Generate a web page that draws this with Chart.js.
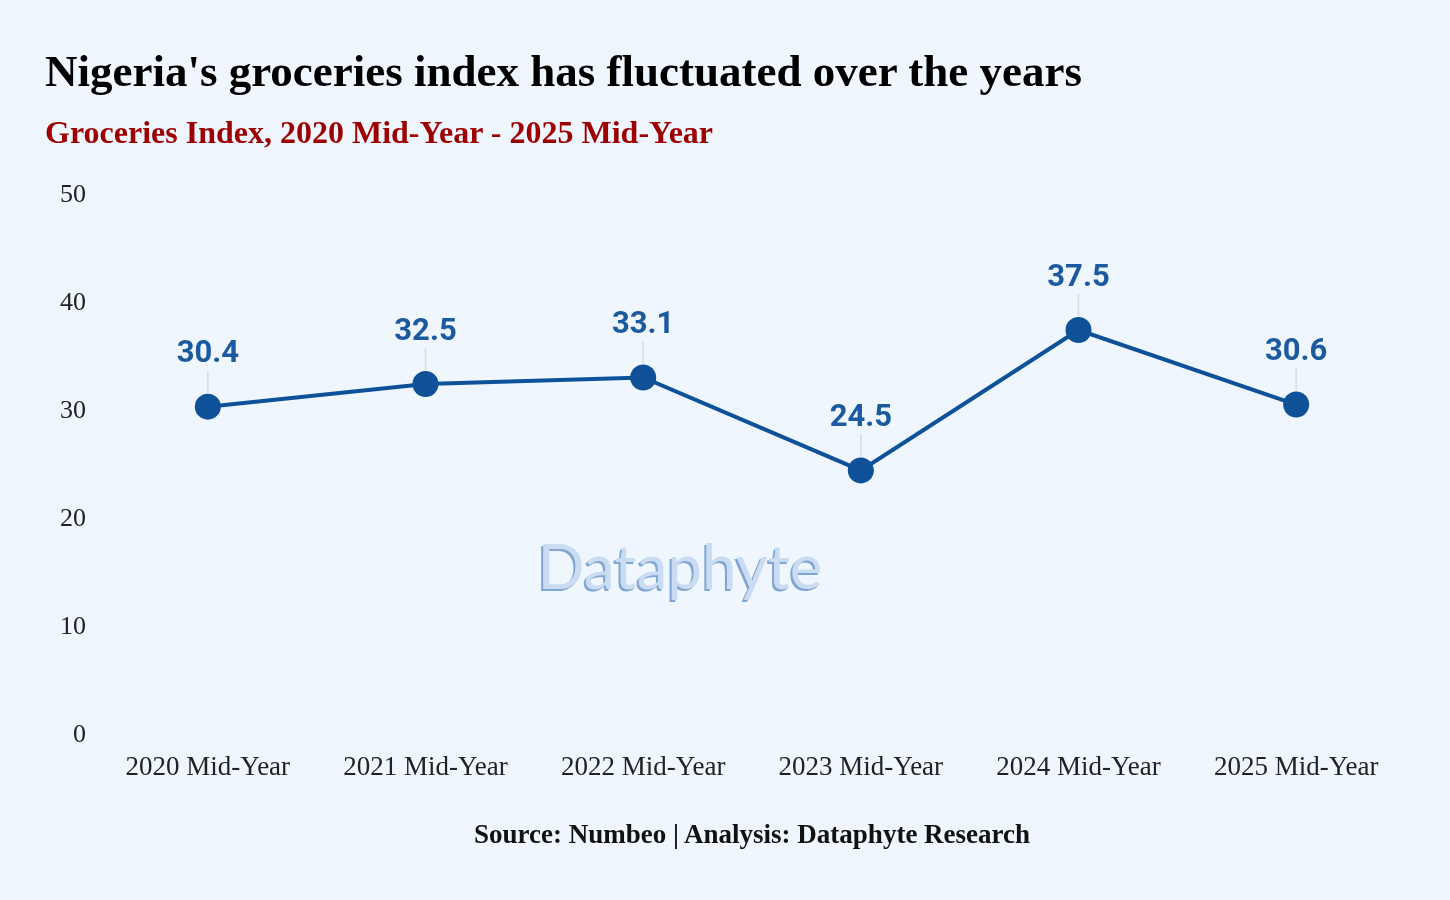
<!DOCTYPE html>
<html>
<head>
<meta charset="utf-8">
<title>Nigeria groceries index</title>
<script src="https://cdn.jsdelivr.net/npm/chart.js@4/dist/chart.umd.min.js"></script>
<style>
  html, body { margin: 0; padding: 0; background: #eff6fd; }
  .wrap { position: relative; width: 1450px; height: 900px; }
  .title { position: absolute; left: 45px; top: 45px; font: bold 45px "Liberation Serif", serif; color: #000; white-space: nowrap; }
  .subtitle { position: absolute; left: 45px; top: 114px; font: bold 32px "Liberation Serif", serif; color: #9c0000; white-space: nowrap; }
  .source { position: absolute; left: 0; width: 1504px; top: 819px; text-align: center; font: bold 27px "Liberation Serif", serif; color: #111; }
  canvas { position: absolute; left: 0; top: 0; }
</style>
</head>
<body>
<div class="wrap">
  <canvas id="chart" width="1450" height="900"></canvas>
  <div class="title">Nigeria's groceries index has fluctuated over the years</div>
  <div class="subtitle">Groceries Index, 2020 Mid-Year - 2025 Mid-Year</div>
  <div class="source">Source: Numbeo | Analysis: Dataphyte Research</div>
</div>
<script>
const years = ['2020 Mid-Year', '2021 Mid-Year', '2022 Mid-Year', '2023 Mid-Year', '2024 Mid-Year', '2025 Mid-Year'];
const groceriesIndex = [30.4, 32.5, 33.1, 24.5, 37.5, 30.6];
const yTicks = [0, 10, 20, 30, 40, 50];

const lineBlue = '#0e5199';

// value labels with a thin leader line above every point
const valueLabels = {
    id: 'valueLabels',
    afterDatasetsDraw(chart) {
        const ctx = chart.ctx;
        const meta = chart.getDatasetMeta(0);
        ctx.save();
        meta.data.forEach((pt, i) => {
            ctx.strokeStyle = '#d3dbe4';
            ctx.lineWidth = 1.5;
            ctx.beginPath();
            ctx.moveTo(pt.x, pt.y - 14);
            ctx.lineTo(pt.x, pt.y - 36);
            ctx.stroke();
            ctx.fillStyle = '#1b5a9f';
            ctx.font = 'bold 31px Roboto';
            ctx.textAlign = 'center';
            ctx.textBaseline = 'middle';
            ctx.fillText(groceriesIndex[i].toFixed(1), pt.x, pt.y - 52);
        });
        ctx.restore();
    }
};

const watermark = {
    id: 'watermark',
    beforeDatasetsDraw(chart) {
        const ctx = chart.ctx;
        ctx.save();
        ctx.font = '400 62px Lato';
        ctx.textAlign = 'center';
        ctx.textBaseline = 'alphabetic';
        ctx.fillStyle = '#7fa5d2';
        ctx.fillText('Dataphyte', 678, 591);
        ctx.fillStyle = '#cadcf1';
        ctx.fillText('Dataphyte', 680, 589);
        ctx.restore();
    }
};

new Chart(document.getElementById('chart'), {
    type: 'line',
    data: {
        labels: years,
        datasets: [{
            data: groceriesIndex,
            borderColor: lineBlue,
            backgroundColor: lineBlue,
            borderWidth: 4,
            pointRadius: 13,
            pointHoverRadius: 13,
            pointBackgroundColor: lineBlue,
            pointBorderWidth: 0,
            tension: 0
        }]
    },
    options: {
        responsive: false,
        animation: false,
        layout: { padding: { top: 195, bottom: 105, left: 0, right: 45 } },
        plugins: {
            legend: { display: false },
            tooltip: { enabled: false }
        },
        scales: {
            x: {
                offset: true,
                grid: { display: false },
                border: { display: false },
                ticks: {
                    padding: 9,
                    color: '#222',
                    font: { family: 'Liberation Serif', size: 27 },
                    maxRotation: 0,
                    autoSkip: false
                },
                afterFit(scale) { scale.height = 60; }
            },
            y: {
                min: 0,
                max: 50,
                grid: { display: false },
                border: { display: false },
                afterBuildTicks(scale) { scale.ticks = yTicks.map(v => ({ value: v })); },
                ticks: {
                    padding: 5,
                    color: '#222',
                    font: { family: 'Liberation Serif', size: 26 }
                },
                afterFit(scale) { scale.width = 99; }
            }
        }
    },
    plugins: [watermark, valueLabels]
});
</script>
</body>
</html>
